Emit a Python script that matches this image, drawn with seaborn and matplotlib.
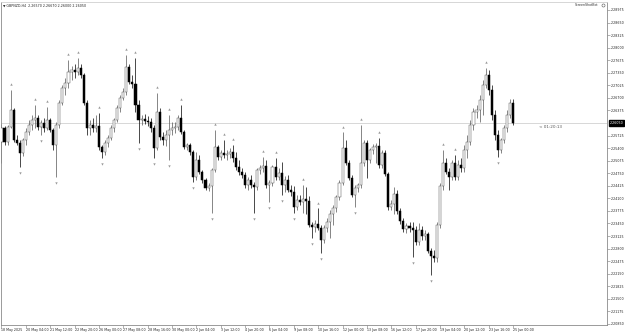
import numpy as np
import pandas as pd
import matplotlib
matplotlib.use("Agg")
import matplotlib.pyplot as plt
import matplotlib.transforms as mtransforms
import seaborn as sns

symbol = "GBPNZD,H4"
opens = [2.2555,2.2592,2.2555,2.2594,2.2638,2.2561,2.2553,2.2527,2.2561,2.2581,
         2.2600,2.2613,2.2618,2.2594,2.2605,2.2592,2.2613,2.2587,2.2548,2.2600,
         2.2657,2.2695,2.2708,2.2737,2.2742,2.2737,2.2747,2.2729,2.2657,2.2592,
         2.2600,2.2592,2.2597,2.2543,2.2530,2.2553,2.2566,2.2592,2.2613,2.2644,
         2.2669,2.2685,2.2750,2.2711,2.2706,2.2651,2.2613,2.2615,2.2610,2.2607,
         2.2592,2.2540,2.2633,2.2568,2.2561,2.2574,2.2587,2.2592,2.2594,2.2618,
         2.2581,2.2543,2.2548,2.2530,2.2465,2.2509,2.2478,2.2457,2.2436,2.2441,
         2.2483,2.2543,2.2517,2.2527,2.2522,2.2524,2.2530,2.2514,2.2491,2.2478,
         2.2470,2.2444,2.2457,2.2444,2.2439,2.2483,2.2488,2.2493,2.2444,2.2449,
         2.2491,2.2465,2.2475,2.2444,2.2457,2.2431,2.2426,2.2387,2.2405,2.2400,
         2.2408,2.2403,2.2340,2.2335,2.2343,2.2333,2.2302,2.2333,2.2348,2.2369,
         2.2384,2.2413,2.2449,2.2540,2.2501,2.2462,2.2418,2.2436,2.2444,2.2501,
         2.2553,2.2509,2.2535,2.2543,2.2545,2.2496,2.2527,2.2473,2.2387,2.2395,
         2.2421,2.2377,2.2351,2.2330,2.2338,2.2333,2.2327,2.2296,2.2327,2.2312,
         2.2317,2.2273,2.2260,2.2255,2.2340,2.2441,2.2501,2.2478,2.2465,2.2501,
         2.2465,2.2496,2.2488,2.2535,2.2555,2.2600,2.2633,2.2638,2.2664,2.2703,
         2.2729,2.2690,2.2625,2.2574,2.2535,2.2561,2.2592,2.2625,2.2657]
highs = [2.2602,2.2597,2.2600,2.2690,2.2644,2.2574,2.2561,2.2566,2.2592,2.2613,
         2.2625,2.2651,2.2625,2.2613,2.2618,2.2646,2.2618,2.2592,2.2607,2.2664,
         2.2703,2.2721,2.2768,2.2752,2.2758,2.2773,2.2758,2.2734,2.2664,2.2613,
         2.2618,2.2625,2.2631,2.2548,2.2561,2.2574,2.2600,2.2618,2.2651,2.2677,
         2.2695,2.2781,2.2758,2.2729,2.2773,2.2664,2.2625,2.2628,2.2623,2.2618,
         2.2600,2.2682,2.2644,2.2581,2.2587,2.2625,2.2607,2.2607,2.2625,2.2651,
         2.2587,2.2553,2.2553,2.2535,2.2530,2.2522,2.2483,2.2462,2.2449,2.2488,
         2.2587,2.2548,2.2535,2.2561,2.2535,2.2540,2.2548,2.2530,2.2509,2.2488,
         2.2478,2.2465,2.2470,2.2452,2.2488,2.2496,2.2517,2.2509,2.2457,2.2496,
         2.2514,2.2488,2.2504,2.2467,2.2470,2.2444,2.2441,2.2418,2.2418,2.2444,
         2.2439,2.2416,2.2348,2.2353,2.2384,2.2340,2.2340,2.2359,2.2379,2.2392,
         2.2418,2.2457,2.2581,2.2561,2.2509,2.2470,2.2444,2.2449,2.2600,2.2561,
         2.2561,2.2540,2.2550,2.2553,2.2566,2.2535,2.2535,2.2478,2.2405,2.2439,
         2.2431,2.2384,2.2359,2.2346,2.2348,2.2348,2.2338,2.2346,2.2338,2.2327,
         2.2322,2.2281,2.2276,2.2348,2.2449,2.2535,2.2514,2.2488,2.2509,2.2522,
         2.2509,2.2514,2.2548,2.2574,2.2613,2.2644,2.2651,2.2677,2.2716,2.2747,
         2.2742,2.2703,2.2638,2.2587,2.2566,2.2600,2.2638,2.2667,2.2667]
lows = [2.2501,2.2548,2.2548,2.2592,2.2555,2.2548,2.2491,2.2519,2.2548,2.2574,
        2.2587,2.2592,2.2587,2.2574,2.2581,2.2587,2.2581,2.2535,2.2465,2.2592,
        2.2651,2.2677,2.2695,2.2716,2.2721,2.2729,2.2721,2.2651,2.2574,2.2574,
        2.2581,2.2581,2.2535,2.2514,2.2522,2.2543,2.2561,2.2581,2.2607,2.2633,
        2.2664,2.2677,2.2706,2.2695,2.2633,2.2553,2.2600,2.2602,2.2597,2.2581,
        2.2514,2.2535,2.2561,2.2548,2.2545,2.2509,2.2574,2.2579,2.2587,2.2576,
        2.2537,2.2535,2.2522,2.2452,2.2457,2.2473,2.2449,2.2431,2.2429,2.2372,
        2.2478,2.2509,2.2509,2.2514,2.2509,2.2514,2.2504,2.2483,2.2470,2.2462,
        2.2436,2.2431,2.2436,2.2372,2.2431,2.2473,2.2478,2.2436,2.2400,2.2441,
        2.2457,2.2457,2.2418,2.2426,2.2426,2.2416,2.2372,2.2379,2.2392,2.2372,
        2.2369,2.2335,2.2307,2.2322,2.2327,2.2268,2.2294,2.2322,2.2307,2.2340,
        2.2374,2.2405,2.2444,2.2496,2.2457,2.2413,2.2387,2.2426,2.2436,2.2493,
        2.2462,2.2501,2.2524,2.2501,2.2488,2.2488,2.2467,2.2379,2.2379,2.2369,
        2.2369,2.2343,2.2322,2.2320,2.2322,2.2258,2.2289,2.2289,2.2302,2.2302,
        2.2268,2.2211,2.2245,2.2245,2.2333,2.2431,2.2473,2.2431,2.2457,2.2457,
        2.2457,2.2478,2.2478,2.2514,2.2548,2.2587,2.2618,2.2607,2.2625,2.2695,
        2.2677,2.2613,2.2561,2.2517,2.2527,2.2553,2.2581,2.2618,2.2600]
closes = [2.2592,2.2555,2.2594,2.2638,2.2561,2.2553,2.2527,2.2561,2.2581,2.2600,
          2.2613,2.2618,2.2594,2.2605,2.2592,2.2613,2.2587,2.2548,2.2600,2.2657,
          2.2695,2.2708,2.2737,2.2742,2.2737,2.2747,2.2729,2.2657,2.2592,2.2600,
          2.2592,2.2597,2.2543,2.2530,2.2553,2.2566,2.2592,2.2613,2.2644,2.2669,
          2.2685,2.2750,2.2711,2.2706,2.2651,2.2613,2.2615,2.2610,2.2607,2.2592,
          2.2540,2.2633,2.2568,2.2561,2.2574,2.2587,2.2592,2.2594,2.2618,2.2581,
          2.2543,2.2548,2.2530,2.2465,2.2509,2.2478,2.2457,2.2436,2.2441,2.2483,
          2.2543,2.2517,2.2527,2.2522,2.2524,2.2530,2.2514,2.2491,2.2478,2.2470,
          2.2444,2.2457,2.2444,2.2439,2.2483,2.2488,2.2493,2.2444,2.2449,2.2491,
          2.2465,2.2475,2.2444,2.2457,2.2431,2.2426,2.2387,2.2405,2.2400,2.2408,
          2.2403,2.2340,2.2335,2.2343,2.2333,2.2302,2.2333,2.2348,2.2369,2.2384,
          2.2413,2.2449,2.2540,2.2501,2.2462,2.2418,2.2436,2.2444,2.2501,2.2553,
          2.2509,2.2535,2.2543,2.2545,2.2496,2.2527,2.2473,2.2387,2.2395,2.2421,
          2.2377,2.2351,2.2330,2.2338,2.2333,2.2327,2.2296,2.2327,2.2312,2.2317,
          2.2273,2.2260,2.2255,2.2340,2.2441,2.2501,2.2478,2.2465,2.2501,2.2465,
          2.2496,2.2488,2.2535,2.2555,2.2600,2.2633,2.2638,2.2664,2.2703,2.2729,
          2.2690,2.2625,2.2574,2.2535,2.2561,2.2592,2.2625,2.2657,2.2605]

date_labels = ["18 May 2025", "20 May 04:00", "21 May 12:00", "22 May 20:00",
               "26 May 00:00", "27 May 08:00", "28 May 16:00", "30 May 00:00",
               "2 Jun 04:00", "3 Jun 12:00", "4 Jun 20:00", "6 Jun 04:00",
               "9 Jun 08:00", "10 Jun 16:00", "12 Jun 00:00", "13 Jun 08:00",
               "16 Jun 12:00", "17 Jun 20:00", "19 Jun 04:00", "20 Jun 12:00",
               "23 Jun 16:00", "25 Jun 00:00"]
price_ticks = [2.28975, 2.28650, 2.28325, 2.28000, 2.27675, 2.27350, 2.27025,
               2.26700, 2.26375, 2.25725, 2.25400, 2.25075, 2.24750, 2.24425,
               2.24100, 2.23775, 2.23450, 2.23125, 2.22800, 2.22475, 2.22150,
               2.21825, 2.21500, 2.21175, 2.20850]
timer_text = "< 01:20:13"
watermark = "ScreenShotBot"

sns.set_theme(style="white")
plt.rcParams['font.family'] = ['DejaVu Sans']

n = len(closes)
df = pd.DataFrame({"bar": np.arange(n), "open": opens, "high": highs,
                   "low": lows, "close": closes})
df["bull"] = df["close"] >= df["open"]
df["bottom"] = df[["open", "close"]].min(axis=1)
df["height"] = (df["close"] - df["open"]).abs()

fig = plt.figure(figsize=(6.25, 3.33), dpi=100)
ax = fig.add_axes([1/625, 1 - 325/333, 606/625, 323/333])
ax.set_facecolor("white")

last = closes[-1]
ax.axhline(last, color="#c8c8c8", lw=0.5, zorder=1)

wick_cols = np.where(df["bull"], "#555555", "#000000")
ax.vlines(df["bar"], df["low"], df["high"], colors=wick_cols, lw=0.5, zorder=2)
face = np.where(df["bull"], "white", "black")
edge = np.where(df["bull"], "#555555", "black")
ax.bar(df["bar"], df["height"], bottom=df["bottom"], width=0.68,
       color=face, edgecolor=edge, linewidth=0.35, zorder=3)

# fractals
hi = df["high"].values
lo = df["low"].values
up_idx = [i for i in range(2, n - 2) if hi[i] > max(hi[i-2:i]) and hi[i] > max(hi[i+1:i+3])]
dn_idx = [i for i in range(2, n - 2) if lo[i] < min(lo[i-2:i]) and lo[i] < min(lo[i+1:i+3])]
fr_up = pd.DataFrame({"bar": up_idx, "y": hi[up_idx] + 0.0015})
fr_dn = pd.DataFrame({"bar": dn_idx, "y": lo[dn_idx] - 0.0015})
sns.scatterplot(data=fr_up, x="bar", y="y", marker="^", s=3, color="#9a9a9a",
                linewidth=0, ax=ax, zorder=4)
sns.scatterplot(data=fr_dn, x="bar", y="y", marker="v", s=3, color="#9a9a9a",
                linewidth=0, ax=ax, zorder=4)

ax.set_xlim(-0.16, 198.85)
ax.set_ylim(2.20823, 2.29182)

ax.yaxis.tick_right()
ax.set_yticks(price_ticks)
ax.set_yticklabels([f"{v:.5f}" for v in price_ticks])
ax.tick_params(axis="y", right=True, length=2, width=0.4, color="#777777",
               labelsize=2.3, pad=1, labelcolor="#222222")
ax.set_xticks([8 * k for k in range(len(date_labels))])
ax.set_xticklabels(date_labels, ha="left")
ax.tick_params(axis="x", bottom=True, length=2, width=0.4, color="#777777",
               labelsize=2.3, pad=0.5, labelcolor="#222222")
ax.set_xlabel("")
ax.set_ylabel("")

for s in ax.spines.values():
    s.set_color("#8a8a8a")
    s.set_linewidth(0.6)
ax.spines["top"].set_color("#d0d0d0")

trans = mtransforms.blended_transform_factory(ax.transAxes, ax.transData)
ax.text(1.004, last, f"{last:.5f}", transform=trans, ha="left", va="center",
        fontsize=2.3, color="white", zorder=6, clip_on=False,
        bbox=dict(boxstyle="square,pad=0.25", fc="black", ec="black"))

ax.text(176.6, last - 0.0010, timer_text, ha="left", va="center",
        fontsize=3.0, color="#555555")

ax.text(0.004, 0.99, f"\u25BC {symbol}  {opens[-1]:.5f} {highs[-1]:.5f} {lows[-1]:.5f} {closes[-1]:.5f}",
        transform=ax.transAxes, ha="left", va="center", fontsize=2.3, color="#222222")
ax.text(0.985, 0.99, watermark, transform=ax.transAxes, ha="right", va="center",
        fontsize=2.3, color="#333333")
ax.plot([0.993], [0.99], marker="o", ms=2.2, mfc="white", mec="#555555", mew=0.4,
        transform=ax.transAxes, clip_on=False)

fig.savefig("out.png", dpi=100)
